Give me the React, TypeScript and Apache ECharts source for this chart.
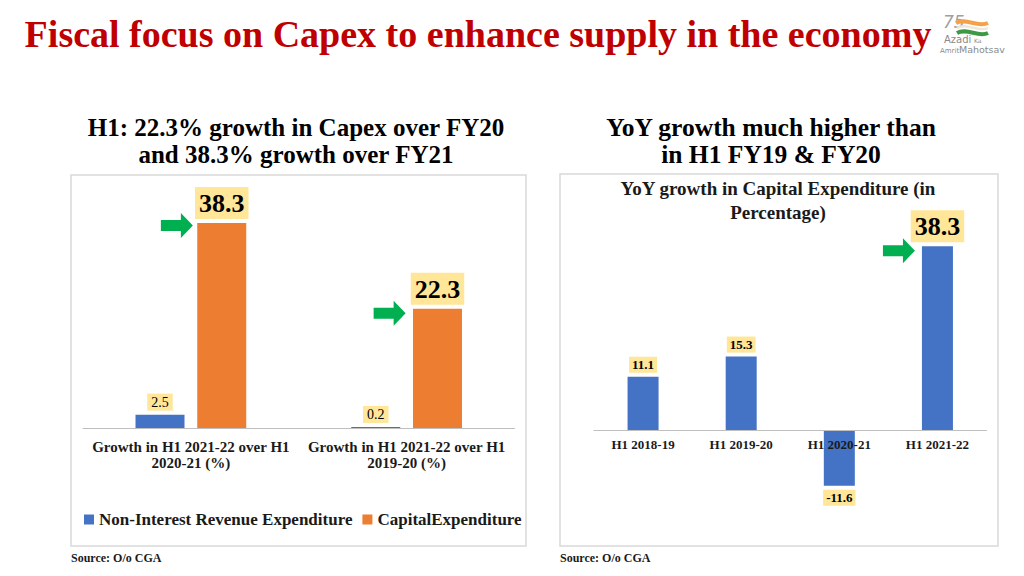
import React, { useEffect, useRef } from "react";
import * as echarts from "echarts";

// ---- data ----
const leftCategories = [
  "Growth in H1 2021-22 over H1\n2020-21 (%)",
  "Growth in H1 2021-22 over H1\n2019-20 (%)",
];
const nonInterestRevenueExp = [2.5, 0.2];
const capitalExp = [38.3, 22.3];
const leftSeriesNames = ["Non-Interest Revenue Expenditure", "CapitalExpenditure"];

const rightCategories = ["H1 2018-19", "H1 2019-20", "H1 2020-21", "H1 2021-22"];
const yoyCapexGrowth = [11.1, 15.3, -11.6, 38.3];
const rightHighlightIndex = 3;
const rightYMin = -20;
const rightYMax = 40;

const mainTitle = "Fiscal focus on Capex to enhance supply in the economy";
const leftHeading = ["H1: 22.3% growth in Capex over FY20", "and 38.3% growth over FY21"];
const rightHeading = ["YoY growth much higher than", "in H1 FY19 & FY20"];
const rightChartTitle = "YoY growth in Capital Expenditure (in\nPercentage)";
const sourceText = "Source: O/o CGA";

const SERIF = "'Liberation Serif', 'Times New Roman', serif";
const SANS = "'DejaVu Sans', sans-serif";
const BLUE = "#4472C4";
const ORANGE = "#ED7D31";
const YELLOW = "#FFE699";
const GREEN = "#00B050";
const ARROW = "path://M0,7L20,7L20,0L32,12.5L20,25L20,18L0,18Z";

const bigLabel = {
  show: true,
  position: "top",
  distance: 4,
  fontFamily: SERIF,
  fontSize: 26,
  fontWeight: "bold",
  color: "#000",
  backgroundColor: YELLOW,
  padding: [3, 4, 2, 4],
  lineHeight: 27,
};

const hiddenValueAxis = {
  type: "value",
  show: true,
  axisLine: { show: false },
  axisTick: { show: false },
  axisLabel: { show: false },
  splitLine: { show: false },
};

function logoText(text: string, x: number, y: number, size: number, extra: any = {}) {
  return {
    type: "text",
    x,
    y,
    style: {
      text,
      font: `${extra.italic ? "italic " : ""}${size}px ${SANS}`,
      fill: extra.fill || "#8a8a8a",
      verticalAlign: "top",
      align: "left",
      lineHeight: size,
    },
  };
}

export default function App() {
  const ref = useRef<HTMLDivElement>(null);
  useEffect(() => {
    if (!ref.current) return;
    const chart = echarts.init(ref.current, undefined, { renderer: "svg" });

    const leftArrowOffsets = [
      [-14, 2.5],
      [-17, 4.5],
    ];

    const rightGridHeight = 288;
    // move the category axis up to the zero line of the value axis
    const rightAxisOffset =
      -((0 - rightYMin) / (rightYMax - rightYMin)) * rightGridHeight;

    const option: any = {
      animation: false,
      backgroundColor: "#fff",
      textStyle: { fontFamily: SERIF },
      grid: [
        { left: 83, top: 214, width: 431.5, height: 214, containLabel: false },
        { left: 594, top: 238, width: 392.5, height: rightGridHeight, containLabel: false },
      ],
      xAxis: [
        {
          type: "category",
          gridIndex: 0,
          data: leftCategories,
          axisTick: { show: false },
          axisLine: { lineStyle: { color: "#BFBFBF", width: 1.2 } },
          axisLabel: {
            interval: 0,
            margin: 11,
            fontFamily: SERIF,
            fontSize: 15,
            fontWeight: "bold",
            color: "#1a1a1a",
            lineHeight: 16,
          },
        },
        {
          type: "category",
          gridIndex: 1,
          data: rightCategories,
          position: "bottom",
          offset: rightAxisOffset,
          z: 3,
          axisTick: { show: false },
          axisLine: { onZero: false, lineStyle: { color: "#BFBFBF", width: 1.2 } },
          axisLabel: {
            interval: 0,
            margin: 8,
            fontFamily: SERIF,
            fontSize: 13,
            fontWeight: "bold",
            color: "#1a1a1a",
          },
        },
      ],
      yAxis: [
        { ...hiddenValueAxis, gridIndex: 0, min: 0, max: 40 },
        { ...hiddenValueAxis, gridIndex: 1, min: rightYMin, max: rightYMax },
      ],
      legend: {
        data: leftSeriesNames,
        left: 79,
        top: 506,
        icon: "rect",
        itemWidth: 10,
        itemHeight: 10,
        itemGap: 10,
        textStyle: { fontFamily: SERIF, fontSize: 17, fontWeight: "bold", color: "#1a1a1a" },
      },
      series: [
        {
          name: leftSeriesNames[0],
          type: "bar",
          xAxisIndex: 0,
          yAxisIndex: 0,
          data: nonInterestRevenueExp,
          barWidth: 49,
          barGap: "26%",
          itemStyle: { color: BLUE },
          label: {
            show: true,
            position: "top",
            distance: 4,
            fontFamily: SERIF,
            fontSize: 14,
            color: "#000",
            backgroundColor: YELLOW,
            padding: [1, 4, 1, 4],
            lineHeight: 15,
          },
        },
        {
          name: leftSeriesNames[1],
          type: "bar",
          xAxisIndex: 0,
          yAxisIndex: 0,
          data: capitalExp,
          barWidth: 49,
          barGap: "26%",
          itemStyle: { color: ORANGE },
          label: bigLabel,
        },
        {
          name: "arrowsLeft",
          type: "scatter",
          xAxisIndex: 0,
          yAxisIndex: 0,
          silent: true,
          symbol: ARROW,
          symbolSize: [32, 25],
          itemStyle: { color: GREEN, opacity: 1 },
          z: 5,
          data: capitalExp.map((v, i) => ({
            value: [i, v],
            symbolOffset: leftArrowOffsets[i],
          })),
        },
        {
          name: "YoY growth in Capital Expenditure",
          type: "bar",
          xAxisIndex: 1,
          yAxisIndex: 1,
          barWidth: 31,
          itemStyle: { color: BLUE },
          label: {
            show: true,
            position: "top",
            distance: 4,
            fontFamily: SERIF,
            fontSize: 13,
            fontWeight: "bold",
            color: "#000",
            backgroundColor: YELLOW,
            padding: [1, 3, 1, 3],
            lineHeight: 14,
          },
          data: yoyCapexGrowth.map((v, i) => {
            if (i === rightHighlightIndex) return { value: v, label: bigLabel };
            if (v < 0) return { value: v, label: { position: "bottom" } };
            return v;
          }),
        },
        {
          name: "arrowsRight",
          type: "scatter",
          xAxisIndex: 1,
          yAxisIndex: 1,
          silent: true,
          symbol: ARROW,
          symbolSize: [32, 25],
          symbolOffset: [-38.5, 4.5],
          itemStyle: { color: GREEN, opacity: 1 },
          z: 5,
          data: [[rightHighlightIndex, yoyCapexGrowth[rightHighlightIndex]]],
        },
      ],
      graphic: [
        // main title
        {
          type: "text",
          x: 478,
          y: 34,
          style: {
            text: mainTitle,
            align: "center",
            verticalAlign: "middle",
            font: `bold 38px ${SERIF}`,
            fill: "#C00000",
          },
        },
        // panel headings
        {
          type: "text",
          x: 296,
          y: 141,
          style: {
            text: leftHeading.join("\n"),
            align: "center",
            verticalAlign: "middle",
            font: `bold 25px ${SERIF}`,
            lineHeight: 27,
            fill: "#000",
          },
        },
        {
          type: "text",
          x: 771,
          y: 141,
          style: {
            text: rightHeading.join("\n"),
            align: "center",
            verticalAlign: "middle",
            font: `bold 25.5px ${SERIF}`,
            lineHeight: 27,
            fill: "#000",
          },
        },
        // panel boxes
        {
          type: "rect",
          shape: { x: 71, y: 175, width: 455, height: 371 },
          style: { fill: "none", stroke: "#D9D9D9", lineWidth: 1.5 },
          z: -10,
        },
        {
          type: "rect",
          shape: { x: 560, y: 174, width: 438, height: 372 },
          style: { fill: "none", stroke: "#D9D9D9", lineWidth: 1.5 },
          z: -10,
        },
        // right chart title
        {
          type: "text",
          x: 778,
          y: 200,
          style: {
            text: rightChartTitle,
            align: "center",
            verticalAlign: "middle",
            font: `bold 19px ${SERIF}`,
            lineHeight: 24,
            fill: "#1a1a1a",
          },
        },
        // sources
        {
          type: "text",
          x: 71,
          y: 558,
          style: {
            text: sourceText,
            align: "left",
            verticalAlign: "middle",
            font: `bold 12px ${SERIF}`,
            fill: "#1a1a1a",
          },
        },
        {
          type: "text",
          x: 560,
          y: 558,
          style: {
            text: sourceText,
            align: "left",
            verticalAlign: "middle",
            font: `bold 12px ${SERIF}`,
            fill: "#1a1a1a",
          },
        },
        // logo
        {
          type: "group",
          x: 942,
          y: 12,
          children: [
            logoText("75", 1, 1, 17, { italic: true, fill: "#a0a0a0" }),
            {
              type: "bezierCurve",
              shape: { x1: 14, y1: 11, x2: 46, y2: 11, cpx1: 24, cpy1: 5, cpx2: 35, cpy2: 16 },
              style: { stroke: "#F4A14A", lineWidth: 4, fill: "none" },
            },
            {
              type: "bezierCurve",
              shape: { x1: 15, y1: 16, x2: 46, y2: 16, cpx1: 25, cpy1: 10, cpx2: 36, cpy2: 21 },
              style: { stroke: "#efe8da", lineWidth: 2.5, fill: "none" },
            },
            {
              type: "bezierCurve",
              shape: { x1: 15, y1: 21, x2: 46, y2: 21, cpx1: 25, cpy1: 15, cpx2: 36, cpy2: 26 },
              style: { stroke: "#3C9A45", lineWidth: 4, fill: "none" },
            },
            logoText("Azadi", 2, 22, 10),
            logoText("Ka", 32, 25, 6),
            logoText("Amrit", -2, 35, 7),
            logoText("Mahotsav", 17, 33, 9.5),
          ],
        },
      ],
    };

    chart.setOption(option);
    return () => chart.dispose();
  }, []);

  return (
    <div
      ref={ref}
      style={{ position: "fixed", left: 0, top: 0, width: 1024, height: 576 }}
    />
  );
}
